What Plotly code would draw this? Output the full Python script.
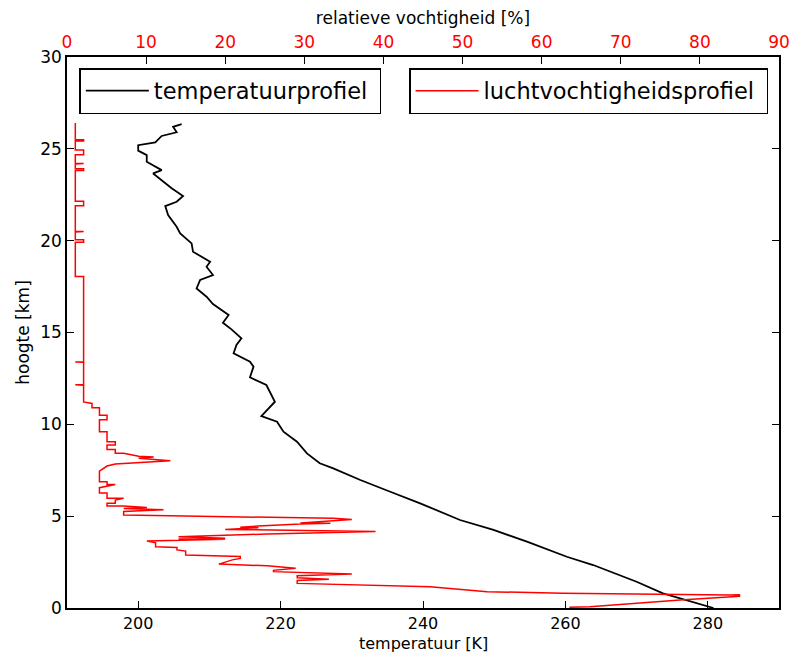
import plotly.graph_objects as go

# Temperature profile (K) vs height (km)
temp_K = [206.1, 204.9, 205.4, 203.3, 202.4, 200.0, 200.0, 201.2, 201.2, 203.3, 202.1, 203.5,
          204.7, 206.3, 205.4, 203.8, 204.2, 205.4, 205.9, 207.5, 207.7, 210.1, 209.6, 210.5,
          208.7, 208.2, 209.6, 210.5, 212.7, 211.9, 213.1, 214.5, 213.8, 213.4, 215.7, 216.2,
          215.7, 218.0, 219.2, 217.3, 219.5, 220.4, 222.3, 223.7, 225.5, 227.4, 231.2, 235.4,
          239.6, 245.2, 249.9, 254.6, 260.2, 263.9, 270.0, 273.7, 277.0, 280.8]
temp_h = [26.35, 26.2, 25.9, 25.7, 25.35, 25.2, 24.9, 24.66, 24.3, 23.84, 23.66, 23.2,
          22.85, 22.43, 22.12, 21.88, 21.39, 20.76, 20.4, 19.85, 19.4, 18.85, 18.58, 18.13,
          17.86, 17.4, 16.95, 16.55, 15.95, 15.53, 15.17, 14.68, 14.32, 13.87, 13.41, 13.14,
          12.56, 12.14, 11.23, 10.45, 10.14, 9.6, 9.05, 8.42, 7.88, 7.6, 6.97, 6.33,
          5.7, 4.79, 4.25, 3.61, 2.79, 2.34, 1.43, 0.8, 0.44, 0.0]

# Relative humidity profile (%) vs height (km)
rh_pct = [1.05, 1.05, 2.1, 2.1, 1.05, 1.05, 2.1, 2.1, 1.05, 1.05, 2.1, 1.05,
          1.05, 2.1, 2.1, 1.05, 1.05, 2.1, 2.1, 1.05, 1.05, 2.1, 1.05,
          1.05, 2.1, 2.1, 1.05, 1.05, 2.1, 2.1, 2.1, 1.05, 2.1, 2.1, 1.05, 2.1,
          2.1, 3.16, 3.16, 4.1, 4.1, 5.06, 5.06, 4.1, 4.1, 5.06, 5.06, 6.1, 6.1, 5.06,
          5.06, 6.1, 6.1, 7.16, 9.06, 10.96, 9.06, 13.06, 6.1, 5.06, 4.1, 4.1, 5.06,
          5.06, 6.1, 5.06, 4.1, 4.1, 5.06, 5.06, 7.16, 6.1, 6.1, 5.06, 5.06, 7.16,
          10.1, 7.16, 12.2, 7.16, 7.16, 13.0, 21.9, 33.7, 36.0, 33.7, 29.5, 33.3,
          29.5, 24.2, 21.9, 24.2, 20.0, 39.0, 25.3, 14.1, 20.0, 14.1, 20.0, 10.1,
          11.2, 11.2, 13.9, 13.9, 15.0, 15.0, 21.9, 21.9, 20.9, 19.2, 25.3, 28.9,
          26.1, 26.1, 36.0, 29.1, 29.1, 33.1, 29.1, 29.1, 45.9, 53.1, 62.7, 83.8,
          85.0, 85.0, 77.5, 66.1, 63.5]
rh_h = [26.4, 25.5, 25.5, 25.42, 25.42, 24.93, 24.93, 24.68, 24.68, 24.2, 24.2, 24.17,
        23.92, 23.92, 23.82, 23.82, 22.15, 22.15, 21.9, 21.9, 20.5, 20.5, 20.47,
        20.05, 20.05, 19.92, 19.92, 18.05, 18.05, 18.0, 13.4, 13.4, 13.38, 12.15, 12.15, 12.13,
        11.22, 11.14, 10.9, 10.9, 10.5, 10.5, 10.25, 10.25, 9.6, 9.6, 9.05, 9.05, 8.87, 8.87,
        8.63, 8.63, 8.42, 8.42, 8.26, 8.22, 8.15, 8.02, 7.84, 7.73, 7.45, 6.88, 6.88,
        6.72, 6.72, 6.62, 6.55, 6.26, 6.26, 5.97, 5.97, 5.88, 5.71, 5.71, 5.55, 5.55,
        5.47, 5.42, 5.35, 5.26, 5.06, 5.02, 4.95, 4.88, 4.82, 4.75, 4.63, 4.61,
        4.58, 4.46, 4.40, 4.37, 4.28, 4.16, 4.03, 3.88, 3.80, 3.76, 3.74, 3.65,
        3.55, 3.34, 3.30, 3.16, 3.10, 2.89, 2.80, 2.70, 2.62, 2.39, 2.30, 2.16,
        2.05, 1.98, 1.85, 1.76, 1.65, 1.56, 1.50, 1.34, 1.16, 0.89, 0.80, 0.71,
        0.72, 0.64, 0.44, 0.07, 0.04]

temp_ticks = [200, 220, 240, 260, 280]
rh_ticks = [0, 10, 20, 30, 40, 50, 60, 70, 80, 90]
h_ticks = [0, 5, 10, 15, 20, 25, 30]

FONT = "DejaVu Sans"

fig = go.Figure()
fig.add_trace(go.Scatter(x=temp_K, y=temp_h, mode="lines", name="temperatuurprofiel\u00a0",
                         line=dict(color="black", width=1.8), xaxis="x", yaxis="y",
                         legend="legend"))
fig.add_trace(go.Scatter(x=rh_pct, y=rh_h, mode="lines", name="luchtvochtigheidsprofiel\u00a0",
                         line=dict(color="#ff0000", width=1.5), xaxis="x2", yaxis="y",
                         legend="legend2"))

axis_common = dict(showgrid=False, zeroline=False, showline=True, linecolor="black",
                   linewidth=1.5, ticks="inside", ticklen=7, tickwidth=1, tickcolor="black",
                   automargin=False)

fig.update_layout(
    width=792, height=652,
    margin=dict(l=67, r=13, t=57, b=44, autoexpand=False),
    paper_bgcolor="white", plot_bgcolor="white",
    font=dict(family=FONT, size=17, color="black"),
    xaxis=dict(range=[190, 290], tickvals=temp_ticks, mirror=True,
               tickfont=dict(size=16), **axis_common),
    xaxis2=dict(range=[0, 90], tickvals=rh_ticks, overlaying="x", side="top",
                anchor="y", tickfont=dict(size=17, color="#ff0000"),
                title=dict(text="relatieve vochtigheid [%]", font=dict(size=17), standoff=4),
                **axis_common),
    yaxis=dict(range=[0, 30], tickvals=h_ticks, mirror="ticks",
               title=dict(text="hoogte [km]", font=dict(size=17), standoff=6),
               tickfont=dict(size=17), **axis_common),
    legend=dict(x=0.0173, y=0.98, xanchor="left", yanchor="top",
                bordercolor="black", borderwidth=1.5, bgcolor="white",
                font=dict(size=22.5), itemwidth=63),
    legend2=dict(x=0.9846, y=0.98, xanchor="right", yanchor="top",
                 bordercolor="black", borderwidth=1.5, bgcolor="white",
                 font=dict(size=22.5), itemwidth=63),
    annotations=[dict(text="temperatuur [K]", xref="paper", yref="paper", x=0.5, y=0,
                      xanchor="center", yanchor="bottom", yshift=-46, showarrow=False,
                      borderpad=0, font=dict(size=16, color="black"))],
    showlegend=True,
)

fig.write_html("out.html")
